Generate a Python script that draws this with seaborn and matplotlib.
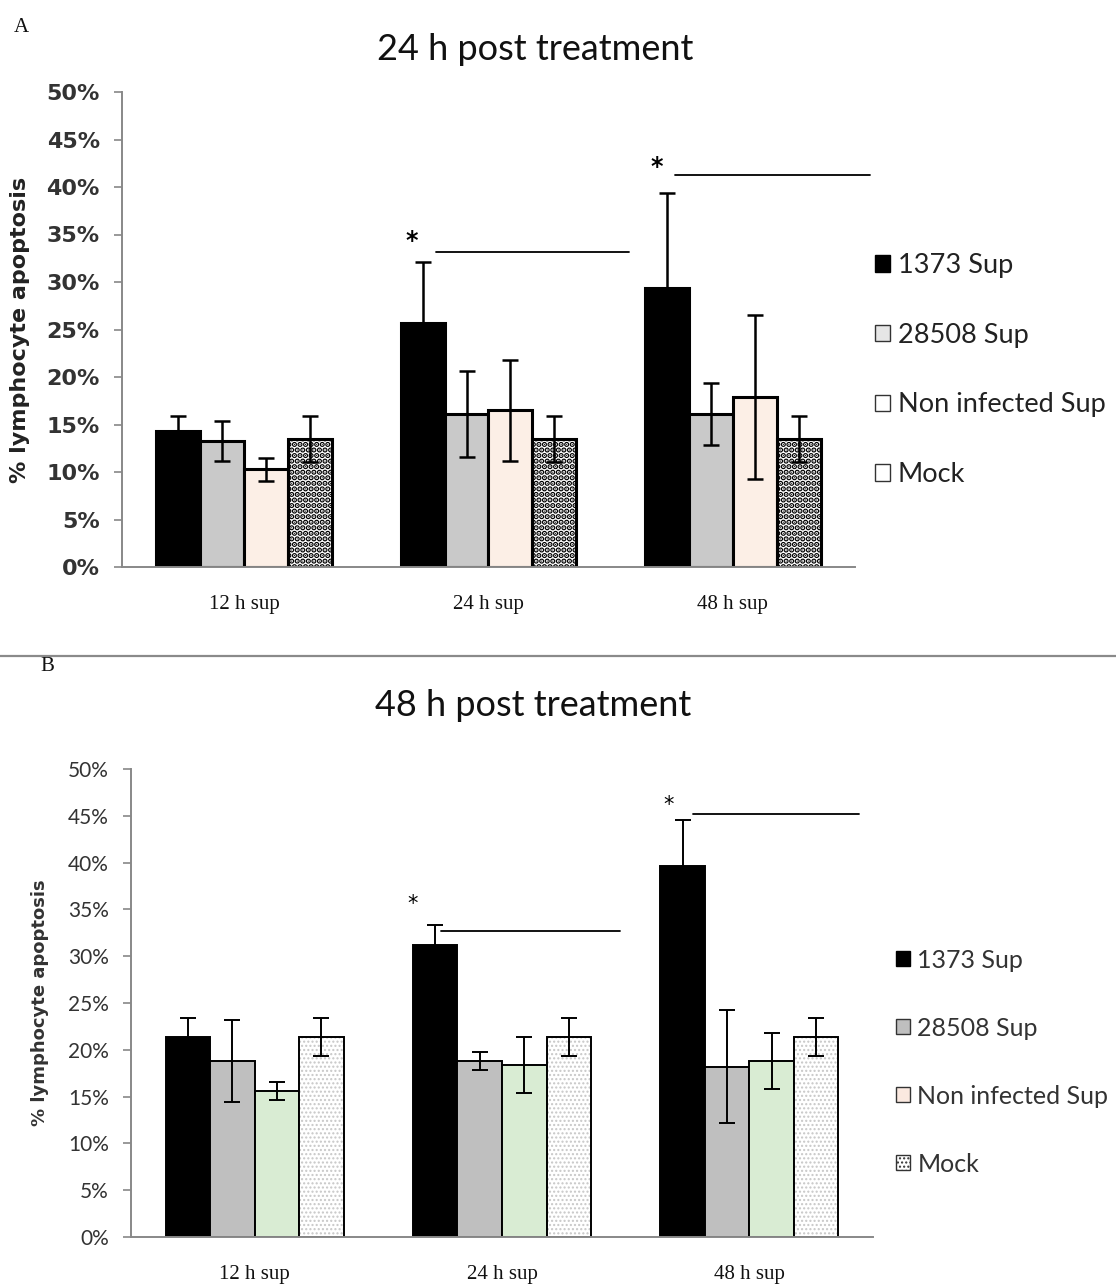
import numpy as np
import pandas as pd
import matplotlib.pyplot as plt
import seaborn as sns
from matplotlib.patches import Patch
from matplotlib.lines import Line2D

sns.set_theme(style='white')
plt.rcParams['font.family'] = ['Lato', 'DejaVu Sans']

times = ['12 h sup', '24 h sup', '48 h sup']
groups = ['1373 Sup', '28508 Sup', 'Non infected Sup', 'Mock']

# A: 24 h post treatment (% apoptosis, mean and error)
a_1373 = [14.3, 25.7, 29.4]
a_28508 = [13.3, 16.1, 16.1]
a_noninf = [10.3, 16.5, 17.9]
a_mock = [13.5, 13.5, 13.5]
a_err_1373 = [1.6, 6.4, 10.0]
a_err_28508 = [2.1, 4.5, 3.3]
a_err_noninf = [1.2, 5.3, 8.6]
a_err_mock = [2.4, 2.4, 2.4]

# B: 48 h post treatment
b_1373 = [21.4, 31.2, 39.6]
b_28508 = [18.8, 18.8, 18.2]
b_noninf = [15.6, 18.4, 18.8]
b_mock = [21.4, 21.4, 21.4]
b_err_1373 = [2.05, 2.1, 5.0]
b_err_28508 = [4.4, 1.0, 6.0]
b_err_noninf = [1.0, 3.0, 3.0]
b_err_mock = [2.05, 2.05, 2.05]

yticks = list(range(0, 51, 5))
ytick_labels = [f'{v}%' for v in yticks]

W, H = 1116, 1287


def make_df(vals, errs):
    return pd.DataFrame({
        'time': times * 4,
        'group': np.repeat(groups, 3),
        'value': sum(vals, []),
        'err': sum(errs, []),
    })


def panel(ax, df, colors, lw, hatch, hatch_color, hatch_lw, err_lw):
    sns.barplot(data=df, x='time', y='value', hue='group', order=times,
                hue_order=groups, palette=colors, width=0.72, errorbar=None,
                edgecolor='black', linewidth=lw, saturation=1, ax=ax,
                legend=False)
    for cont, g in zip(ax.containers, groups):
        sub = df[df['group'] == g].set_index('time')
        for bar, t in zip(cont, times):
            xc = bar.get_x() + bar.get_width() / 2
            ax.errorbar(xc, bar.get_height(), yerr=sub.loc[t, 'err'],
                        fmt='none', ecolor='black', elinewidth=err_lw,
                        capsize=6, capthick=err_lw, zorder=5)
    for bar in ax.containers[3]:
        bar.set_hatch(hatch)
        bar._hatch_color = hatch_color
        if hasattr(bar, 'set_hatch_linewidth'):
            bar.set_hatch_linewidth(hatch_lw)
    ax.set_xlim(-0.5, 2.5)
    ax.set_ylim(0, 50)
    ax.set_yticks(yticks)
    ax.set_yticklabels(ytick_labels)
    ax.set_xlabel('')
    ax.set_xticks([-0.5, 0.5, 1.5, 2.5], minor=True)
    ax.tick_params(axis='x', which='major', length=0, pad=20)
    ax.tick_params(axis='x', which='minor', length=7, color='#888888',
                   direction='out', width=1.2)
    ax.tick_params(axis='y', length=6, color='#888888', direction='out',
                   left=True, width=1.2, pad=10)
    sns.despine(ax=ax)
    for s in ['left', 'bottom']:
        ax.spines[s].set_color('#888888')
        ax.spines[s].set_linewidth(1.4)


def sig(ax, star_x, star_y, x0, x1, y, size, weight):
    ax.text(star_x, star_y, '*', ha='center', va='center', fontsize=size,
            fontweight=weight, family='DejaVu Sans', color='black')
    ax.plot([x0, x1], [y, y], color='black', lw=1.3, clip_on=False)


fig = plt.figure(figsize=(W / 100, H / 100), dpi=100)

# ---- panel A
axA = fig.add_axes([122 / W, 1 - 567 / H, 733 / W, 475 / H])
dfA = make_df([a_1373, a_28508, a_noninf, a_mock],
              [a_err_1373, a_err_28508, a_err_noninf, a_err_mock])
panel(axA, dfA, ['#000000', '#c9c9c9', '#fcefe6', '#ffffff'], 2.2,
      '...', (0, 0, 0, 1), 2.8, 1.8)
for lab in axA.get_yticklabels():
    lab.set_family('DejaVu Sans')
    lab.set_fontweight('bold')
    lab.set_fontsize(16)
    lab.set_color('#333333')
for lab in axA.get_xticklabels():
    lab.set_family('Liberation Serif')
    lab.set_fontsize(15)
    lab.set_color('#111111')
axA.set_ylabel('% lymphocyte apoptosis', family='DejaVu Sans',
               fontweight='bold', fontsize=16, color='#222222')
axA.yaxis.set_label_coords(-0.125, 0.5)
sig(axA, 0.684, 34.3, 0.787, 1.574, 33.2, 17, 'bold')
sig(axA, 1.689, 42.1, 1.762, 2.56, 41.3, 17, 'bold')

hA = [Patch(facecolor='#000000', edgecolor='#000000'),
      Patch(facecolor='#e6e6e6', edgecolor='#333333'),
      Patch(facecolor='#ffffff', edgecolor='#333333'),
      Patch(facecolor='#ffffff', edgecolor='#333333')]
legA = axA.legend(hA, groups, loc='center left',
                  bbox_to_anchor=(864 / W, 1 - 370 / H),
                  bbox_transform=fig.transFigure, frameon=False,
                  fontsize=19.5, handlelength=0.55, handleheight=0.55,
                  handletextpad=0.3, labelspacing=1.65, borderaxespad=0)
for t in legA.get_texts():
    t.set_color('#222222')

fig.text(535 / W, 1 - 50 / H, '24 h post treatment', ha='center',
         va='center', fontsize=26, color='#111111')
fig.text(14 / W, 1 - 28 / H, 'A', ha='left', va='center', fontsize=15,
         family='Liberation Serif', color='#111111')

# separator
fig.add_artist(Line2D([0, 1], [1 - 656 / H, 1 - 656 / H],
                      transform=fig.transFigure, color='#8a8a8a', lw=1.6))

# ---- panel B
axB = fig.add_axes([131 / W, 1 - 1237 / H, 742 / W, 468 / H])
dfB = make_df([b_1373, b_28508, b_noninf, b_mock],
              [b_err_1373, b_err_28508, b_err_noninf, b_err_mock])
panel(axB, dfB, ['#000000', '#bfbfbf', '#d9ecd3', '#ffffff'], 1.4,
      '....', (0.78, 0.78, 0.78, 1), 1.0, 1.4)
for lab in axB.get_yticklabels():
    lab.set_fontsize(15)
    lab.set_color('#333333')
for lab in axB.get_xticklabels():
    lab.set_family('Liberation Serif')
    lab.set_fontsize(15)
    lab.set_color('#111111')
axB.set_ylabel('% lymphocyte apoptosis', family='DejaVu Sans',
               fontweight='bold', fontsize=13, color='#333333')
axB.yaxis.set_label_coords(-0.11, 0.5)
sig(axB, 0.639, 35.6, 0.755, 1.478, 32.7, 15, 'normal')
sig(axB, 1.673, 46.2, 1.774, 2.443, 45.2, 15, 'normal')

hB = [Patch(facecolor='#000000', edgecolor='#000000'),
      Patch(facecolor='#bfbfbf', edgecolor='#333333'),
      Patch(facecolor='#fbe9e0', edgecolor='#333333'),
      Patch(facecolor='#ffffff', edgecolor='#333333', hatch='....')]
legB = axB.legend(hB, groups, loc='center left',
                  bbox_to_anchor=(886 / W, 1 - 1062 / H),
                  bbox_transform=fig.transFigure, frameon=False,
                  fontsize=18, handlelength=0.55, handleheight=0.55,
                  handletextpad=0.3, labelspacing=1.8, borderaxespad=0)
for t in legB.get_texts():
    t.set_color('#333333')

fig.text(533 / W, 1 - 705 / H, '48 h post treatment', ha='center',
         va='center', fontsize=26, color='#111111')
fig.text(40 / W, 1 - 667 / H, 'B', ha='left', va='center', fontsize=15,
         family='Liberation Serif', color='#111111')

fig.savefig('out.png', dpi=100)
